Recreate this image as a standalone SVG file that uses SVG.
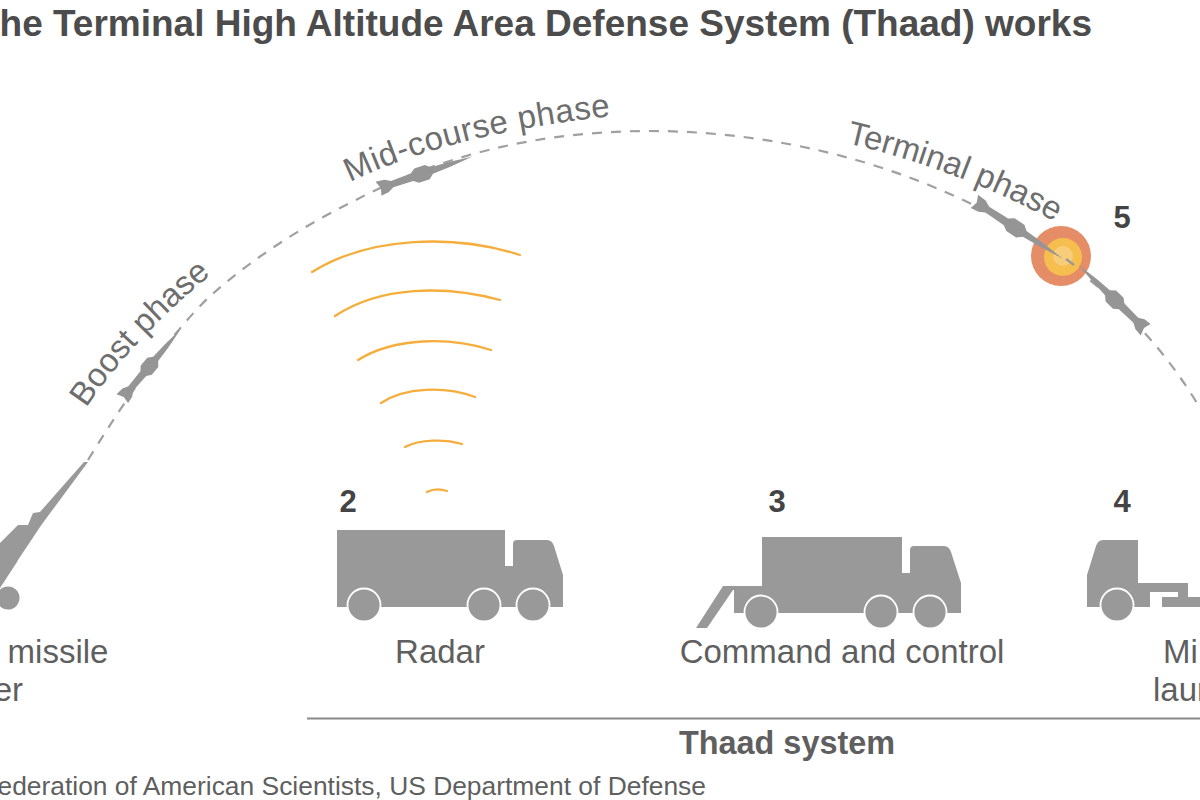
<svg xmlns="http://www.w3.org/2000/svg" xmlns:xlink="http://www.w3.org/1999/xlink" width="1200" height="800" viewBox="0 0 1200 800">
  <style>
    text { font-family: "Liberation Sans", Arial, sans-serif; fill: #5f5f5f; }
    .title { font-size: 37px; font-weight: bold; fill: #4c4c4c; }
    .label { font-size: 33px; text-anchor: middle; }
    .phase { font-size: 33px; fill: #6e6e6e; }
    .num { font-size: 31px; font-weight: bold; fill: #444; text-anchor: middle; }
    .src { font-size: 26.4px; text-anchor: end; }
    .veh { fill: #999; }
    .wheel { fill: #999; stroke: #fff; stroke-width: 1.8; }
    .wave { fill: none; stroke: #f5ad3c; stroke-width: 2.3; stroke-linecap: round; }
    .arc { fill: none; stroke: #a0a0a0; stroke-width: 2.2; stroke-dasharray: 10 9; }
  </style>
  <defs>
    <!-- Missile profile, tail at the origin and nose on +x, 100 units long -->
    <path id="missile" fill="#959595" d="M0-8 L9-7 L15-3.6 L36-4.2 L41-8 L52-8 L57-3.6 L75-2.6 L100 0 L75 2.6 L57 3.6 L52 8 L41 8 L36 4.2 L15 3.6 L9 7 L1 8 L3 0Z"/>
    <path id="p-boost" d="M86 408 C122 355 167 310 217 270"/>
    <path id="p-mid" d="M350 182 C425 146 525 124 625 115"/>
    <path id="p-term" d="M846 143 C920 160 1000 190 1066 228"/>
  </defs>
  <rect width="1200" height="800" fill="#fff"/>

  <text class="title" x="1092" y="36" text-anchor="end">he Terminal High Altitude Area Defense System (Thaad) works</text>

  <g id="connectors">
    <path id="trajectory" class="arc" d="M88 460 C128 395 170 335 208 298 C250 260 300 228 350 203 C440 155 540 131 650 131 C850 131 1085 215 1200 408"/>
  </g>

  <g id="launch-site">
    <path class="veh" d="M88 462 L84 462 L40 512 L33 513 L28 525 L18 525 L0 543 V588 L17 562 L18 560 L40 527 L45 520Z"/>
    <circle class="veh" cx="8" cy="598" r="11.5"/>
    <text class="label" x="58" y="663">missile</text>
    <text class="label" x="23" y="701" style="text-anchor:end">er</text>
  </g>

  <g id="boost-phase">
    <use href="#missile" transform="translate(122 399) rotate(-50) scale(0.92 0.9)"/>
    <text class="phase"><textPath href="#p-boost">Boost phase</textPath></text>
  </g>

  <g id="mid-course-phase">
    <use href="#missile" transform="translate(378 189) rotate(-19) scale(1 0.95)"/>
    <text class="phase" letter-spacing="0.5"><textPath href="#p-mid">Mid-course phase</textPath></text>
  </g>

  <g id="radar">
    <path class="wave" d="M312 272 C370 236 455 234 520 255"/>
    <path class="wave" d="M335 316 C380 286 445 285 500 300"/>
    <path class="wave" d="M358 360 C395 337 450 337 491 350"/>
    <path class="wave" d="M381 403 C405 387 445 386 475 397"/>
    <path class="wave" d="M405 447 C420 439 445 439 462 444"/>
    <path class="wave" d="M427 492 C433 489 441 489 447 491"/>
    <text class="num" x="348" y="512">2</text>
    <path class="veh" d="M337 530 H505 V566 H513 V544 Q513 540 517 540 H547 Q552 540 554 546 L563 575 V607 H337Z"/>
    <circle class="wheel" cx="364" cy="605" r="16.5"/>
    <circle class="wheel" cx="484" cy="605" r="16.5"/>
    <circle class="wheel" cx="533" cy="605" r="16.5"/>
    <text class="label" x="440" y="663">Radar</text>
  </g>

  <g id="command-and-control">
    <text class="num" x="777" y="512">3</text>
    <path class="veh" d="M762 537 H902 V573 H910 V550 Q910 546 914 546 H944 Q949 546 951 552 L961 583 V613 H734 V590 L733 590 L707 628 H696 L723 586 H762Z"/>
    <circle class="wheel" cx="761" cy="612" r="16.5"/>
    <circle class="wheel" cx="881" cy="612" r="16.5"/>
    <circle class="wheel" cx="930" cy="612" r="16.5"/>
    <text class="label" x="842" y="663">Command and control</text>
  </g>

  <g id="launcher">
    <text class="num" x="1122" y="512">4</text>
    <path class="veh" d="M1138 540 V583 H1188 V592 H1150 V607 H1087 V575 L1096 546 Q1098 540 1103 540Z"/>
    <path class="veh" d="M1162 597 H1178 V592 H1188 V597 H1200 V607 H1162Z"/>
    <circle class="wheel" cx="1117" cy="605" r="16.5"/>
    <text class="label" x="1163" y="663" style="text-anchor:start">Mi</text>
    <text class="label" x="1153" y="701" style="text-anchor:start">laun</text>
  </g>

  <g id="intercept">
    <text class="phase"><textPath href="#p-term">Terminal phase</textPath></text>
    <circle cx="1061" cy="256" r="30" fill="#e58d66"/>
    <circle cx="1063" cy="257" r="19" fill="#f6bd4f"/>
    <circle cx="1063" cy="256" r="10" fill="#f8cd7a"/>
    <use href="#missile" transform="translate(974 201) rotate(33) scale(1.06 0.95)"/>
    <use href="#missile" transform="translate(1146 330) rotate(-136) scale(0.94 0.95)"/>
    <path d="M1066 259 L1074 265" stroke="#999" stroke-width="2.4"/>
    <text class="num" x="1122" y="228">5</text>
  </g>

  <g id="thaad-bracket">
    <path d="M307 718.5 H1200" stroke="#8a8a8a" stroke-width="2"/>
    <text x="787" y="754" text-anchor="middle" font-size="32.4" font-weight="bold">Thaad system</text>
  </g>

  <text class="src" x="706" y="795">ederation of American Scientists, US Department of Defense</text>
</svg>
